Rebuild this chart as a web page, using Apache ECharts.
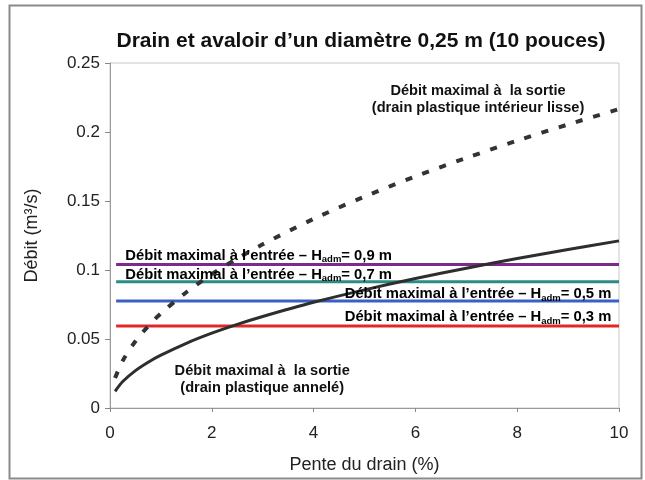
<!DOCTYPE html>
<html>
<head>
<meta charset="utf-8">
<script src="https://cdn.jsdelivr.net/npm/echarts@6/dist/echarts.min.js"></script>
<style>
  html, body { margin: 0; padding: 0; background: #fff; }
  #chart { width: 645px; height: 480px; }
</style>
</head>
<body>
<div id="chart"></div>
<script>
// Drain slope (%) sampled along the outlet-capacity curves
const slopes = [0.1, 0.25, 0.5, 0.75, 1, 1.5, 2, 2.5, 3, 4, 5, 6, 7, 8, 9, 10];
// Outlet capacity, corrugated plastic drain (m³/s)
const flowCorrugated = [0.0121, 0.0192, 0.0271, 0.0332, 0.0383, 0.0469, 0.0542, 0.0606, 0.0663, 0.0766, 0.0856, 0.0938, 0.1013, 0.1083, 0.1149, 0.1211];
// Outlet capacity, smooth-wall plastic drain (m³/s)
const flowSmooth = [0.0217, 0.0343, 0.0484, 0.0593, 0.0685, 0.0839, 0.0969, 0.1083, 0.1186, 0.1370, 0.1532, 0.1678, 0.1812, 0.1937, 0.2055, 0.2166];
// Inlet capacity for each admissible head H_adm
const headLabels = ['0,9', '0,7', '0,5', '0,3'];
const inletFlow = [0.104, 0.0915, 0.0775, 0.0595];
const inletColors = ['#7d2a8c', '#2a8c84', '#3a60c8', '#e02828'];
const inletRange = [0.12, 10];
const xTicks = { min: 0, max: 10, interval: 2 };
const yTicks = { min: 0, max: 0.25, interval: 0.05 };

const chart = echarts.init(document.getElementById('chart'), null, { renderer: 'canvas' });

const pair = (xs, ys) => xs.map((x, i) => [x, ys[i]]);

const series = [];
inletFlow.forEach((q, i) => {
  series.push({
    type: 'line',
    name: 'Hadm ' + headLabels[i],
    data: inletRange.map(x => [x, q]),
    symbol: 'none',
    lineStyle: { color: inletColors[i], width: 3 },
    z: 2,
    silent: true
  });
});
series.push({
  type: 'line',
  name: 'annelé',
  data: pair(slopes, flowCorrugated),
  symbol: 'none',
  smooth: 0.3,
  lineStyle: { color: '#2e2e2e', width: 3 },
  z: 4,
  silent: true
});
series.push({
  type: 'line',
  name: 'lisse',
  data: pair(slopes, flowSmooth),
  symbol: 'none',
  smooth: 0.3,
  lineStyle: { color: '#333', width: 4, type: [7, 11], cap: 'butt' },
  z: 4,
  silent: true
});

const font = '"Liberation Sans", Arial, sans-serif';

chart.setOption({
  animation: false,
  backgroundColor: '#fff',
  title: {
    text: 'Drain et avaloir d\u2019un diamètre 0,25 m (10 pouces)',
    left: 356, top: 26, textAlign: 'center',
    textStyle: { fontFamily: font, fontWeight: 'bold', fontSize: 21, color: '#111' }
  },
  grid: {
    left: 110, right: 26, top: 63, bottom: 72,
    show: true, borderColor: '#c8c8c8', borderWidth: 1
  },
  xAxis: {
    type: 'value', min: xTicks.min, max: xTicks.max, interval: xTicks.interval,
    name: 'Pente du drain (%)', nameLocation: 'middle', nameGap: 48,
    nameTextStyle: { fontFamily: font, fontSize: 18, color: '#222' },
    axisLine: { lineStyle: { color: '#999', width: 1 } },
    axisTick: { length: 4, lineStyle: { color: '#888' } },
    axisLabel: { fontFamily: font, fontSize: 17, color: '#222', margin: 17 },
    splitLine: { show: false }
  },
  yAxis: {
    type: 'value', min: yTicks.min, max: yTicks.max, interval: yTicks.interval,
    name: 'Débit (m³/s)', nameLocation: 'middle', nameGap: 69, nameRotate: 90,
    nameTextStyle: { fontFamily: font, fontSize: 18, color: '#222' },
    axisLine: { show: true, lineStyle: { color: '#999', width: 1 } },
    axisTick: { show: true, length: 5, lineStyle: { color: '#888' } },
    axisLabel: { fontFamily: font, fontSize: 17, color: '#222', margin: 10 },
    splitLine: { show: false }
  },
  series: series
});

// Annotation labels placed at data coordinates
const rich = {
  b: { fontFamily: font, fontWeight: 'bold', fontSize: 14.8, color: '#111' },
  s: { fontFamily: font, fontWeight: 'bold', fontSize: 9.5, color: '#111', verticalAlign: 'bottom', padding: [8, 0, 0, 0] }
};
const inletText = h => '{b|Débit maximal à l\u2019entrée \u2013 H}{s|adm}{b|= ' + h + ' m}';

function px(x, y) { return chart.convertToPixel({ gridIndex: 0 }, [x, y]); }

const graphics = [];
// outer frame
graphics.push({
  type: 'rect', shape: { x: 9.5, y: 5.5, width: 632, height: 473 },
  style: { fill: null, stroke: '#8a8a8a', lineWidth: 2 }, silent: true, z: 0
});

const labelSpec = [
  { align: 'left', anchorX: 0.3, dy: -9 },
  { align: 'left', anchorX: 0.3, dy: -7 },
  { align: 'right', anchorX: 9.85, dy: -7 },
  { align: 'right', anchorX: 9.85, dy: -9 }
];
inletFlow.forEach((q, i) => {
  const p = px(labelSpec[i].anchorX, q);
  graphics.push({
    type: 'text', x: p[0], y: p[1] + labelSpec[i].dy, z: 10, silent: true,
    style: { text: inletText(headLabels[i]), rich: rich, align: labelSpec[i].align, verticalAlign: 'middle' }
  });
});

const outletLabels = [
  { at: [7.23, 0.2235], lines: 'Débit maximal à  la sortie\n(drain plastique intérieur lisse)' },
  { at: [2.99, 0.0205], lines: 'Débit maximal à  la sortie\n(drain plastique annelé)' }
];
outletLabels.forEach(l => {
  const p = px(l.at[0], l.at[1]);
  graphics.push({
    type: 'text', x: p[0], y: p[1], z: 10, silent: true,
    style: {
      text: l.lines, align: 'center', verticalAlign: 'middle',
      fontFamily: font, fontWeight: 'bold', fontSize: 14.6, lineHeight: 17, fill: '#111'
    }
  });
});

chart.setOption({ graphic: graphics });
</script>
</body>
</html>
